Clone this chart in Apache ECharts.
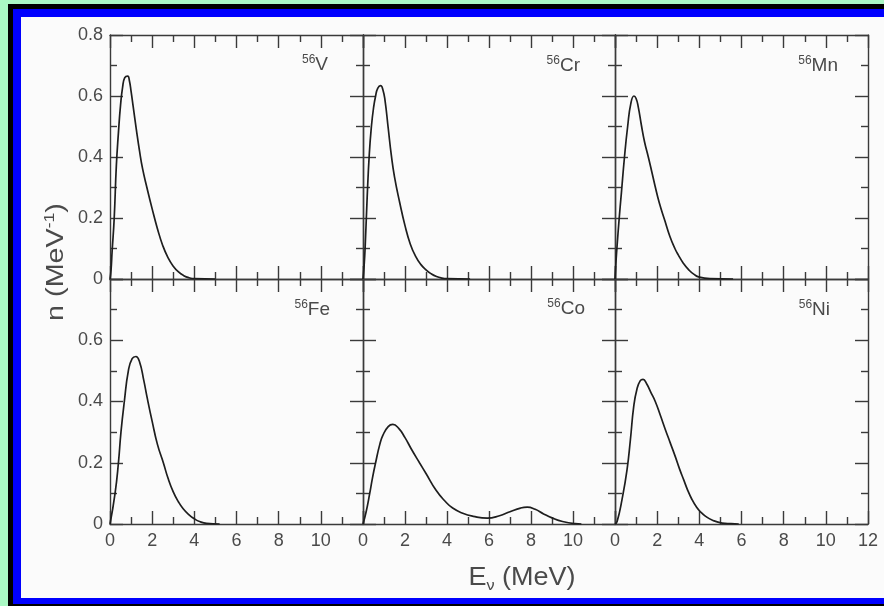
<!DOCTYPE html>
<html>
<head>
<meta charset="utf-8">
<script src="https://cdn.jsdelivr.net/npm/echarts@6/dist/echarts.min.js"></script>
<style>
  html, body { margin:0; padding:0; width:884px; height:606px; overflow:hidden; background:#aaf8c4; }
  #black { position:absolute; left:8px; top:4px; width:876px; height:602px; background:#000; }
  #blue { position:absolute; left:13px; top:9px; width:871px; height:595px; background:#0000ff; }
  #white { position:absolute; left:21px; top:17px; width:863px; height:581px; background:#fbfbfb; }
  #chart { position:absolute; left:0; top:0; width:884px; height:606px; }
</style>
</head>
<body>
<div id="black"></div><div id="blue"></div><div id="white"></div>
<div id="chart"></div>
<script>
// ---- data (E in MeV, n in MeV^-1) ----
const isotopes = ['V', 'Cr', 'Mn', 'Fe', 'Co', 'Ni'];
const massNumber = '56';

const vE = [0, 0.05, 0.1, 0.2, 0.3, 0.4, 0.5, 0.6, 0.7, 0.84, 0.92, 1.0, 1.1, 1.25, 1.4, 1.55, 1.75, 2.0, 2.25, 2.5, 2.75, 3.0, 3.25, 3.5, 3.75, 4.0, 5.0];
const vN = [0, 0.03, 0.09, 0.2, 0.37, 0.48, 0.57, 0.63, 0.66, 0.665, 0.65, 0.615, 0.565, 0.49, 0.42, 0.36, 0.30, 0.23, 0.165, 0.11, 0.07, 0.042, 0.023, 0.011, 0.004, 0.001, 0];

const crE = [0, 0.05, 0.1, 0.2, 0.3, 0.4, 0.5, 0.6, 0.7, 0.84, 0.95, 1.05, 1.2, 1.35, 1.5, 1.75, 2.0, 2.25, 2.5, 2.75, 3.0, 3.25, 3.5, 3.75, 4.0, 5.1];
const crN = [0, 0.04, 0.1, 0.27, 0.41, 0.5, 0.56, 0.6, 0.625, 0.634, 0.62, 0.585, 0.495, 0.405, 0.335, 0.25, 0.175, 0.115, 0.075, 0.048, 0.03, 0.017, 0.008, 0.003, 0.001, 0];

const mnE = [0, 0.05, 0.1, 0.2, 0.3, 0.45, 0.6, 0.75, 0.9, 1.0, 1.1, 1.25, 1.4, 1.58, 1.75, 1.9, 2.1, 2.37, 2.6, 2.84, 3.0, 3.24, 3.5, 3.75, 4.0, 4.5, 5.6];
const mnN = [0, 0.06, 0.11, 0.2, 0.28, 0.4, 0.5, 0.575, 0.6, 0.592, 0.565, 0.505, 0.45, 0.4, 0.35, 0.305, 0.25, 0.19, 0.14, 0.1, 0.079, 0.052, 0.03, 0.015, 0.006, 0.001, 0];

const feE = [0, 0.24, 0.4, 0.52, 0.68, 0.87, 1.05, 1.23, 1.4, 1.6, 1.77, 2.0, 2.25, 2.53, 2.75, 3.0, 3.25, 3.47, 3.75, 4.0, 4.25, 4.58, 5.2];
const feN = [0, 0.1, 0.2, 0.3, 0.4, 0.5, 0.54, 0.547, 0.53, 0.47, 0.41, 0.335, 0.26, 0.2, 0.15, 0.105, 0.072, 0.05, 0.03, 0.017, 0.008, 0.002, 0];

const coE = [0, 0.15, 0.32, 0.45, 0.6, 0.8, 0.95, 1.2, 1.42, 1.7, 2.0, 2.3, 2.69, 3.0, 3.48, 3.9, 4.27, 4.75, 5.25, 5.92, 6.5, 7.0, 7.5, 7.82, 8.2, 8.6, 9.0, 9.5, 10.1, 10.4];
const coN = [0, 0.04, 0.1, 0.15, 0.2, 0.26, 0.29, 0.318, 0.325, 0.312, 0.282, 0.245, 0.2, 0.165, 0.11, 0.075, 0.052, 0.035, 0.025, 0.019, 0.027, 0.04, 0.052, 0.055, 0.048, 0.033, 0.02, 0.008, 0.001, 0];

const niE = [0, 0.1, 0.33, 0.57, 0.73, 0.89, 1.04, 1.2, 1.33, 1.5, 1.7, 1.91, 2.15, 2.39, 2.62, 2.86, 3.06, 3.26, 3.45, 3.65, 3.85, 4.05, 4.3, 4.6, 5.08, 5.5, 5.87];
const niN = [0, 0.008, 0.079, 0.177, 0.275, 0.385, 0.44, 0.468, 0.472, 0.458, 0.43, 0.4, 0.355, 0.308, 0.265, 0.22, 0.18, 0.144, 0.11, 0.08, 0.057, 0.04, 0.025, 0.013, 0.003, 0.001, 0];

const xMin = 0, xMax = 12, xStep = 2;
const yMin = 0, yMax = 0.8, yStep = 0.2;

// ---- layout ----
const colLeft = [110, 363, 615];
const colWidth = [253, 252, 253];
const rowTop = [35, 279];
const rowHeight = [244, 245];

const energies = [vE, crE, mnE, feE, coE, niE];
const spectra = [vN, crN, mnN, feN, coN, niN];

const axisColor = '#3a3a3a';
const labelColor = '#4a4a4a';
const lineStyle = { color: axisColor, width: 1.4 };
const tickFont = { fontFamily: 'Liberation Sans, Arial, sans-serif', fontSize: 18, color: labelColor };

const grids = [], xAxes = [], yAxes = [], series = [], graphics = [];

for (let i = 0; i < 6; i++) {
  const row = Math.floor(i / 3), col = i % 3;
  grids.push({ left: colLeft[col], top: rowTop[row], width: colWidth[col], height: rowHeight[row], containLabel: false });
  ['bottom', 'top'].forEach(pos => {
    xAxes.push({
      gridIndex: i, type: 'value', min: xMin, max: xMax, interval: xStep, position: pos,
      axisLine: { show: true, onZero: false, lineStyle },
      axisTick: { show: true, inside: true, length: 13, lineStyle },
      minorTick: { show: true, splitNumber: 2, length: 7, lineStyle },
      splitLine: { show: false },
      axisLabel: Object.assign({
        show: pos === 'bottom' && row === 1, margin: 8,
        showMinLabel: true, showMaxLabel: col === 2
      }, tickFont)
    });
  });
  ['left', 'right'].forEach(pos => {
    yAxes.push({
      gridIndex: i, type: 'value', min: yMin, max: yMax, interval: yStep, position: pos,
      axisLine: { show: true, onZero: false, lineStyle },
      axisTick: { show: true, inside: true, length: 13, lineStyle },
      minorTick: { show: true, splitNumber: 2, length: 7, lineStyle },
      splitLine: { show: false },
      axisLabel: Object.assign({
        show: pos === 'left' && col === 0, margin: 7,
        showMinLabel: true, showMaxLabel: row === 0,
        formatter: v => String(Math.round(v * 10) / 10)
      }, tickFont)
    });
  });
  series.push({
    type: 'line', xAxisIndex: 2 * i, yAxisIndex: 2 * i,
    data: energies[i].map((e, k) => [e, spectra[i][k]]),
    showSymbol: false, smooth: 0.5,
    lineStyle: { color: '#1e1e1e', width: 1.7 }, silent: true, animation: false
  });
}

// isotope labels
const tagRight = [328, 580, 838, 330, 585, 830];
const tagY = [65, 66, 66, 310, 309, 310];
for (let i = 0; i < 6; i++) {
  graphics.push({
    type: 'text', x: tagRight[i], y: tagY[i], silent: true,
    style: {
      text: '{s|' + massNumber + '}{m|' + isotopes[i] + '}',
      align: 'right', verticalAlign: 'middle',
      rich: {
        s: { fontFamily: 'Liberation Sans, Arial, sans-serif', fontSize: 12, fill: labelColor, verticalAlign: 'top', lineHeight: 22 },
        m: { fontFamily: 'Liberation Sans, Arial, sans-serif', fontSize: 19, fill: labelColor, lineHeight: 22 }
      }
    }
  });
}
// axis titles
graphics.push({
  type: 'text', x: 57, y: 262, rotation: Math.PI / 2, scaleX: 1.25, silent: true,
  style: {
    text: '{m|n (MeV}{s|-1}{m|)}', align: 'center', verticalAlign: 'middle',
    rich: {
      m: { fontFamily: 'Liberation Sans, Arial, sans-serif', fontSize: 23, fill: labelColor, lineHeight: 28 },
      s: { fontFamily: 'Liberation Sans, Arial, sans-serif', fontSize: 14, fill: labelColor, lineHeight: 28, verticalAlign: 'top' }
    }
  }
});
graphics.push({
  type: 'text', x: 522, y: 578, scaleX: 1.08, silent: true,
  style: {
    text: '{m|E}{s|ν}{m| (MeV)}', align: 'center', verticalAlign: 'middle',
    rich: {
      m: { fontFamily: 'Liberation Sans, Arial, sans-serif', fontSize: 25, fill: labelColor, lineHeight: 30 },
      s: { fontFamily: 'Liberation Sans, Arial, sans-serif', fontSize: 15, fill: labelColor, lineHeight: 30, verticalAlign: 'bottom' }
    }
  }
});

const chart = echarts.init(document.getElementById('chart'), null, { renderer: 'canvas' });
chart.setOption({
  animation: false,
  backgroundColor: 'transparent',
  grid: grids, xAxis: xAxes, yAxis: yAxes, series: series, graphic: graphics
});
</script>
</body>
</html>
